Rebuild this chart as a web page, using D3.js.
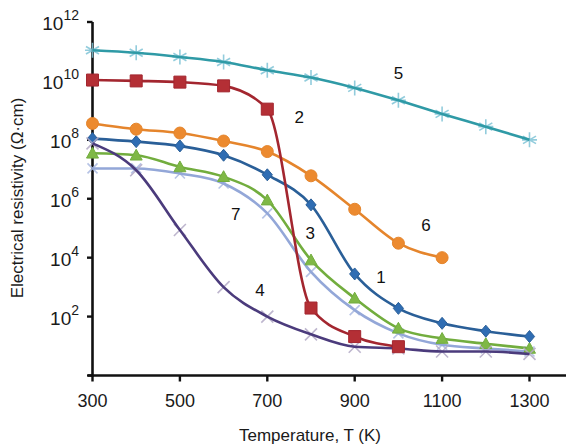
<!DOCTYPE html>
<html>
<head>
<meta charset="utf-8">
<script src="https://cdn.jsdelivr.net/npm/d3@7"></script>
<style>
  html, body { margin: 0; padding: 0; background: #fff; }
  svg { display: block; font-family: "Liberation Sans", Arial, Helvetica, sans-serif; }
</style>
</head>
<body>
<svg id="chart" width="566" height="447"></svg>
<script>
// Temperatures (K) at which each sample was measured
const temps = [300, 400, 500, 600, 700, 800, 900, 1000, 1100, 1200, 1300];

// Electrical resistivity (Ω·cm) for each numbered sample
const rho1 = [1.1e8, 8.7e7, 6.2e7, 3.0e7, 6.5e6, 6.2e5, 2.8e3, 190, 59, 32, 21];
const rho2 = [1.07e10, 1.0e10, 9.1e9, 6.8e9, 1.1e9, 195, 21, 9.5];
const rho3 = [3.5e7, 3.0e7, 1.2e7, 5.6e6, 9.0e5, 8.3e3, 420, 40, 18, 12, 8.3];
const rho4 = [7.6e7, 9.3e6, 8.7e4, 1.0e3, 100, 25, 9.5, 8.3, 6.5, 6.5, 5.4];
const rho5 = [1.1e11, 9.0e10, 6.5e10, 4.4e10, 2.3e10, 1.3e10, 5.8e9, 2.2e9, 7.6e8, 2.8e8, 1.0e8];
const rho6 = [3.6e8, 2.3e8, 1.7e8, 9.1e7, 4.0e7, 6.0e6, 4.4e5, 3.1e4, 1.0e4];
const rho7 = [1.07e7, 1.07e7, 7.2e6, 3.3e6, 3.2e5, 3.3e3, 165, 27, 11, 8.3, 6.5];

// Axis ticks
const xTicks = [300, 500, 700, 900, 1100, 1300];
const yTickExponents = [2, 4, 6, 8, 10, 12];

// Curve labels placed in data coordinates: [T, resistivity]
const labelNames = ["1", "2", "3", "4", "5", "6", "7"];
const labelT = [960, 773, 798, 683, 1000, 1063, 628];
const labelRho = [2.2e3, 5.9e8, 6.8e4, 800, 1.9e10, 1.3e5, 3.0e5];

const series = [
  { name: "7", values: rho7, line: "#93a7d8", marker: "times", mfill: "#a9b8e0", msize: 5 },
  { name: "3", values: rho3, line: "#72ad3e", marker: "triangle", mfill: "#7fb846", msize: 6 },
  { name: "1", values: rho1, line: "#2a5f98", marker: "diamond", mfill: "#2f6db3", msize: 6 },
  { name: "6", values: rho6, line: "#e5852c", marker: "circle", mfill: "#ec8a2f", msize: 6 },
  { name: "4", values: rho4, line: "#4b3b7c", marker: "times", mfill: "#b3a9c6", msize: 6 },
  { name: "2", values: rho2, line: "#a3262f", marker: "square", mfill: "#b42f35", msize: 6 },
  { name: "5", values: rho5, line: "#2f9aa6", marker: "asterisk", mfill: "#7fc3d6", msize: 7.5 }
];

const svg = d3.select("#chart");

const x = d3.scaleLinear().domain([300, 1300]).range([92.5, 529.5]);
const y = d3.scaleLog().domain([1, 1e12]).range([375.5, 22]);

// Axes
const axisG = svg.append("g");
axisG.append("line")
  .attr("x1", 92.5).attr("x2", 92.5)
  .attr("y1", y(1e12)).attr("y2", y(1) + 1.2)
  .attr("stroke", "#111").attr("stroke-width", 2.6);
axisG.append("line")
  .attr("x1", 88).attr("x2", 566)
  .attr("y1", y(1)).attr("y2", y(1))
  .attr("stroke", "#111").attr("stroke-width", 2.6);

// y ticks (outward, left)
yTickExponents.concat([0]).forEach(e => {
  axisG.append("line")
    .attr("x1", 87).attr("x2", 92.5)
    .attr("y1", y(Math.pow(10, e))).attr("y2", y(Math.pow(10, e)))
    .attr("stroke", "#111").attr("stroke-width", 2.4);
});
// x ticks (outward, down)
xTicks.forEach(t => {
  axisG.append("line")
    .attr("x1", x(t)).attr("x2", x(t))
    .attr("y1", y(1)).attr("y2", y(1) + 6)
    .attr("stroke", "#111").attr("stroke-width", 2.4);
});

// x tick labels
svg.append("g").selectAll("text").data(xTicks).join("text")
  .attr("x", d => x(d)).attr("y", 407)
  .attr("text-anchor", "middle")
  .attr("font-size", 18).attr("fill", "#1a1a1a")
  .text(d => d);

// y tick labels: 10 with superscript exponent
const yl = svg.append("g").selectAll("text").data(yTickExponents).join("text")
  .attr("x", 79).attr("y", d => y(Math.pow(10, d)) + 8)
  .attr("text-anchor", "end")
  .attr("font-size", 19).attr("fill", "#1a1a1a");
yl.append("tspan").text("10");
yl.append("tspan").attr("dy", -10).attr("font-size", 14).text(d => d);

// Axis titles
svg.append("text")
  .attr("x", 310).attr("y", 441)
  .attr("text-anchor", "middle")
  .attr("font-size", 17).attr("fill", "#1a1a1a")
  .text("Temperature, T (K)");
svg.append("text")
  .attr("transform", "translate(23,198) rotate(-90)")
  .attr("text-anchor", "middle")
  .attr("font-size", 17).attr("fill", "#1a1a1a")
  .text("Electrical resistivity (Ω·cm)");

// Marker shapes
function markerPath(kind, s) {
  switch (kind) {
    case "square": return `M${-s},${-s}H${s}V${s}H${-s}Z`;
    case "circle": return d3.symbol(d3.symbolCircle, Math.PI * s * s)();
    case "diamond": return `M0,${-s}L${s * 0.85},0L0,${s}L${-s * 0.85},0Z`;
    case "triangle": return `M0,${-s}L${s},${s * 0.8}L${-s},${s * 0.8}Z`;
    case "times": return `M${-s},${-s}L${s},${s}M${-s},${s}L${s},${-s}`;
    case "asterisk": {
      const a = s * 0.87, b = s * 0.5;
      return `M0,${-s}V${s}M${-a},${-b}L${a},${b}M${-a},${b}L${a},${-b}M${-s},0H${s}`;
    }
  }
}

const line = d3.line()
  .x(d => x(d[0]))
  .y(d => y(d[1]))
  .curve(d3.curveMonotoneX);

series.forEach(s => {
  const pts = s.values.map((v, i) => [temps[i], v]);
  const g = svg.append("g");
  const stroked = s.marker === "times" || s.marker === "asterisk";
  // stroke-only markers sit beneath the line
  if (stroked) {
    g.selectAll("path.m").data(pts).join("path")
      .attr("class", "m")
      .attr("transform", d => `translate(${x(d[0])},${y(d[1])})`)
      .attr("d", markerPath(s.marker, s.msize))
      .attr("fill", "none")
      .attr("stroke", s.mfill)
      .attr("stroke-width", 1.6)
      .attr("opacity", 0.85);
  }
  g.append("path")
    .attr("d", line(pts))
    .attr("fill", "none")
    .attr("stroke", s.line)
    .attr("stroke-width", 2.6)
    .attr("stroke-linejoin", "round");
  if (!stroked) {
    g.selectAll("path.m").data(pts).join("path")
      .attr("class", "m")
      .attr("transform", d => `translate(${x(d[0])},${y(d[1])})`)
      .attr("d", markerPath(s.marker, s.msize))
      .attr("fill", s.mfill)
      .attr("stroke", s.line)
      .attr("stroke-width", 1);
  }
});

// Curve number labels
svg.append("g").selectAll("text").data(labelNames).join("text")
  .attr("x", (d, i) => x(labelT[i]))
  .attr("y", (d, i) => y(labelRho[i]))
  .attr("dy", "0.36em")
  .attr("text-anchor", "middle")
  .attr("font-size", 17).attr("fill", "#111")
  .text(d => d);
</script>
</body>
</html>
